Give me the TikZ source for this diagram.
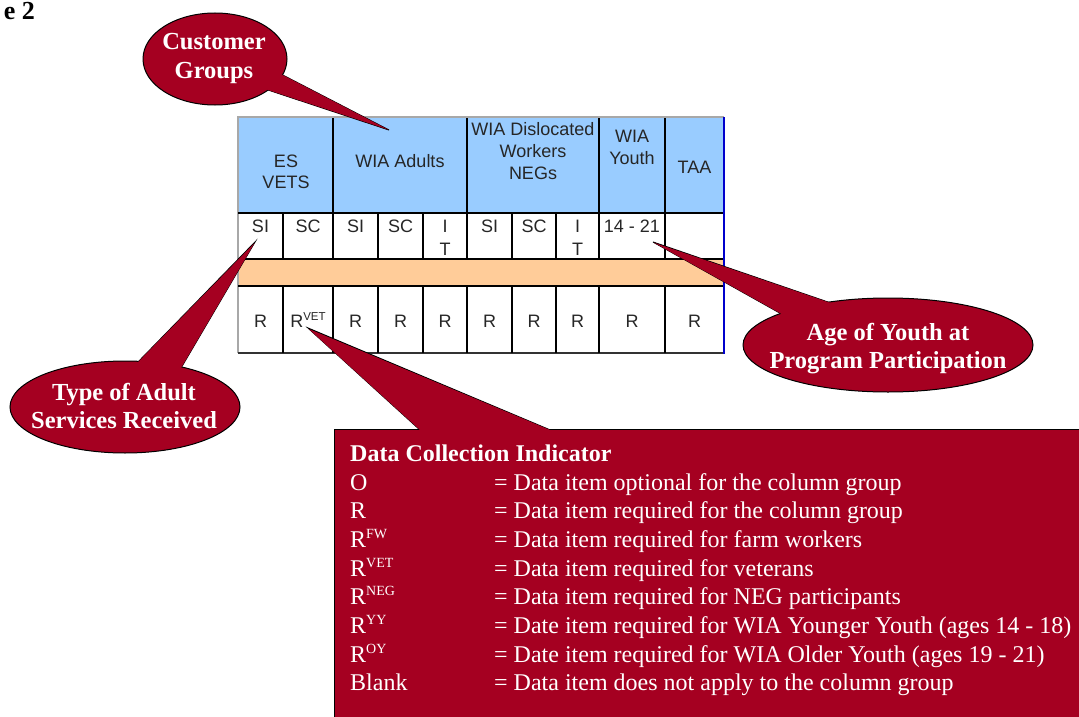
\documentclass[tikz,border=0pt]{standalone}
\usepackage{fontspec}
\setmainfont{Liberation Serif}
\newfontfamily\tabfont{Liberation Sans}
\definecolor{calloutred}{HTML}{A50021}
\definecolor{hdrblue}{HTML}{99CCFF}
\definecolor{bandorange}{HTML}{FFCC99}
\definecolor{bordergray}{HTML}{A8A8A8}
\definecolor{edgeblue}{HTML}{0000CC}
\begin{document}
\begin{tikzpicture}[x=1pt,y=-1pt,
  tabtxt/.style={font=\tabfont\fontsize{18}{22}\selectfont, inner sep=0pt, anchor=base, text=black!85},
  calltxt/.style={font=\bfseries\fontsize{24.5}{28}\selectfont, inner sep=0pt, anchor=base, text=white},
  legtxt/.style={font=\fontsize{24}{28}\selectfont, inner sep=0pt, anchor=base west, text=white},
  callshape/.style={fill=calloutred, draw=black, line width=1pt},
  callfill/.style={fill=calloutred},
  gridline/.style={draw=black, line width=1.6pt},
  groupline/.style={draw=black, line width=2.2pt}]
\clip (0,0) rectangle (1079,717);
\fill[white] (0,0) rectangle (1079,717);

% figure label fragment
\node[anchor=base east, font=\bfseries\fontsize{26}{30}\selectfont, inner sep=0pt] (figlabel) at (35,20) {e 2};

% ---------- table ----------
\fill[hdrblue] (238,117) rectangle (724,213);
\fill[white] (238,213) rectangle (724,259);
\fill[bandorange] (238,259) rectangle (724,286);
\fill[white] (238,286) rectangle (724,353);
\draw[bordergray, line width=1.5pt] (238,353) -- (238,117) -- (724,117);
\draw[gridline] (238,213) -- (724,213);
\draw[groupline] (238,259) -- (724,259);
\draw[groupline] (238,286) -- (724,286);
\draw[black!80, line width=1.2pt] (238,353) -- (724,353);
\foreach \x in {333,467,599,665} {
  \draw[groupline] (\x,118) -- (\x,213);
}
\foreach \x in {283,378,423,512,556} {
  \draw[gridline] (\x,213) -- (\x,259);
  \draw[gridline] (\x,286) -- (\x,353);
}
\foreach \x in {333,467,599,665} {
  \draw[groupline] (\x,213) -- (\x,259);
  \draw[groupline] (\x,286) -- (\x,353);
}
\draw[edgeblue, line width=2.4pt] (724,117) -- (724,354);

% header texts
\node[tabtxt] (hES) at (286,167) {ES};
\node[tabtxt] (hVETS) at (286,188) {VETS};
\node[tabtxt] (hAdults) at (400,167) {WIA Adults};
\node[tabtxt] (hDisl) at (533,135) {WIA Dislocated};
\node[tabtxt] (hWork) at (533,157) {Workers};
\node[tabtxt] (hNEG) at (533,179) {NEGs};
\node[tabtxt] (hWIA) at (632,142) {WIA};
\node[tabtxt] (hYouth) at (632,164) {Youth};
\node[tabtxt] (hTAA) at (694.5,173) {TAA};

% sub row texts
\node[tabtxt] (s1) at (260.5,232) {SI};
\node[tabtxt] (s2) at (308,232) {SC};
\node[tabtxt] (s3) at (355.5,232) {SI};
\node[tabtxt] (s4) at (400.5,232) {SC};
\node[tabtxt] (s5a) at (445,232) {I};
\node[tabtxt] (s5b) at (445,255) {T};
\node[tabtxt] (s6) at (489.5,232) {SI};
\node[tabtxt] (s7) at (534,232) {SC};
\node[tabtxt] (s8a) at (577.5,232) {I};
\node[tabtxt] (s8b) at (577.5,255) {T};
\node[tabtxt] (s9) at (632,232) {14 - 21};

% bottom row texts
\foreach \x [count=\i] in {260.5,355.5,400.5,445,489.5,534,577.5,632,694.5} {
  \node[tabtxt] (r\i) at (\x,327) {R};
}
\node[tabtxt] (rvet) at (308,327) {R\raisebox{7pt}{\fontsize{11.5}{11.5}\selectfont VET}};

% ---------- callout: Customer Groups ----------
\filldraw[callshape] (256,86) -- (389,130) -- (272,69.5) -- cycle;
\filldraw[callshape] (215,59) ellipse [x radius=72pt, y radius=46pt];
\fill[callfill] (256,86) -- (388,129.5) -- (272,69.5) -- cycle;
\node[calltxt] (cg1) at (214,50) {Customer};
\node[calltxt] (cg2) at (214,78) {Groups};

% ---------- callout: Type of Adult Services ----------
\filldraw[callshape] (120.5,380) -- (255,242) -- (171,385) -- cycle;
\filldraw[callshape] (125,407) ellipse [x radius=115pt, y radius=46pt];
\fill[callfill] (120.5,380) -- (254.5,243) -- (171,385) -- cycle;
\node[calltxt] (ta1) at (124,400) {Type of Adult};
\node[calltxt] (ta2) at (124,428) {Services Received};

% ---------- callout: Age of Youth ----------
\filldraw[callshape] (796.75,322.5) -- (653,242) -- (847.35,308.7) -- cycle;
\filldraw[callshape] (888,345) ellipse [x radius=145pt, y radius=47pt];
\fill[callfill] (796.75,322.5) -- (654,242.7) -- (847.35,308.7) -- cycle;
\node[calltxt] (ay1) at (888,340) {Age of Youth at};
\node[calltxt] (ay2) at (888,368) {Program Participation};

% ---------- legend callout ----------
\filldraw[callshape] (431,440) -- (308,328) -- (574,440) -- cycle;
\filldraw[callshape] (334.5,429.5) rectangle (1100,740);
\fill[callfill] (431,440) -- (309,329.2) -- (574,440) -- cycle;

\node[legtxt, font=\bfseries\fontsize{24}{28}\selectfont] (legtitle) at (350,461) {Data Collection Indicator};
\foreach \y/\k/\d [count=\i] in {
  490/{O}/{Data item optional for the column group},
  518/{R}/{Data item required for the column group},
  547/{R\raisebox{9pt}{\fontsize{14}{14}\selectfont FW}}/{Data item required for farm workers},
  576/{R\raisebox{9pt}{\fontsize{14}{14}\selectfont VET}}/{Data item required for veterans},
  604/{R\raisebox{9pt}{\fontsize{14}{14}\selectfont NEG}}/{Data item required for NEG participants},
  633/{R\raisebox{9pt}{\fontsize{14}{14}\selectfont YY}}/{Date item required for WIA Younger Youth (ages 14 - 18)},
  662/{R\raisebox{9pt}{\fontsize{14}{14}\selectfont OY}}/{Date item required for WIA Older Youth (ages 19 - 21)},
  690/{Blank}/{Data item does not apply to the column group}} {
  \node[legtxt] (lk\i) at (350,\y) {\k};
  \node[legtxt] (ld\i) at (494,\y) {= \d};
}
\end{tikzpicture}
\end{document}
